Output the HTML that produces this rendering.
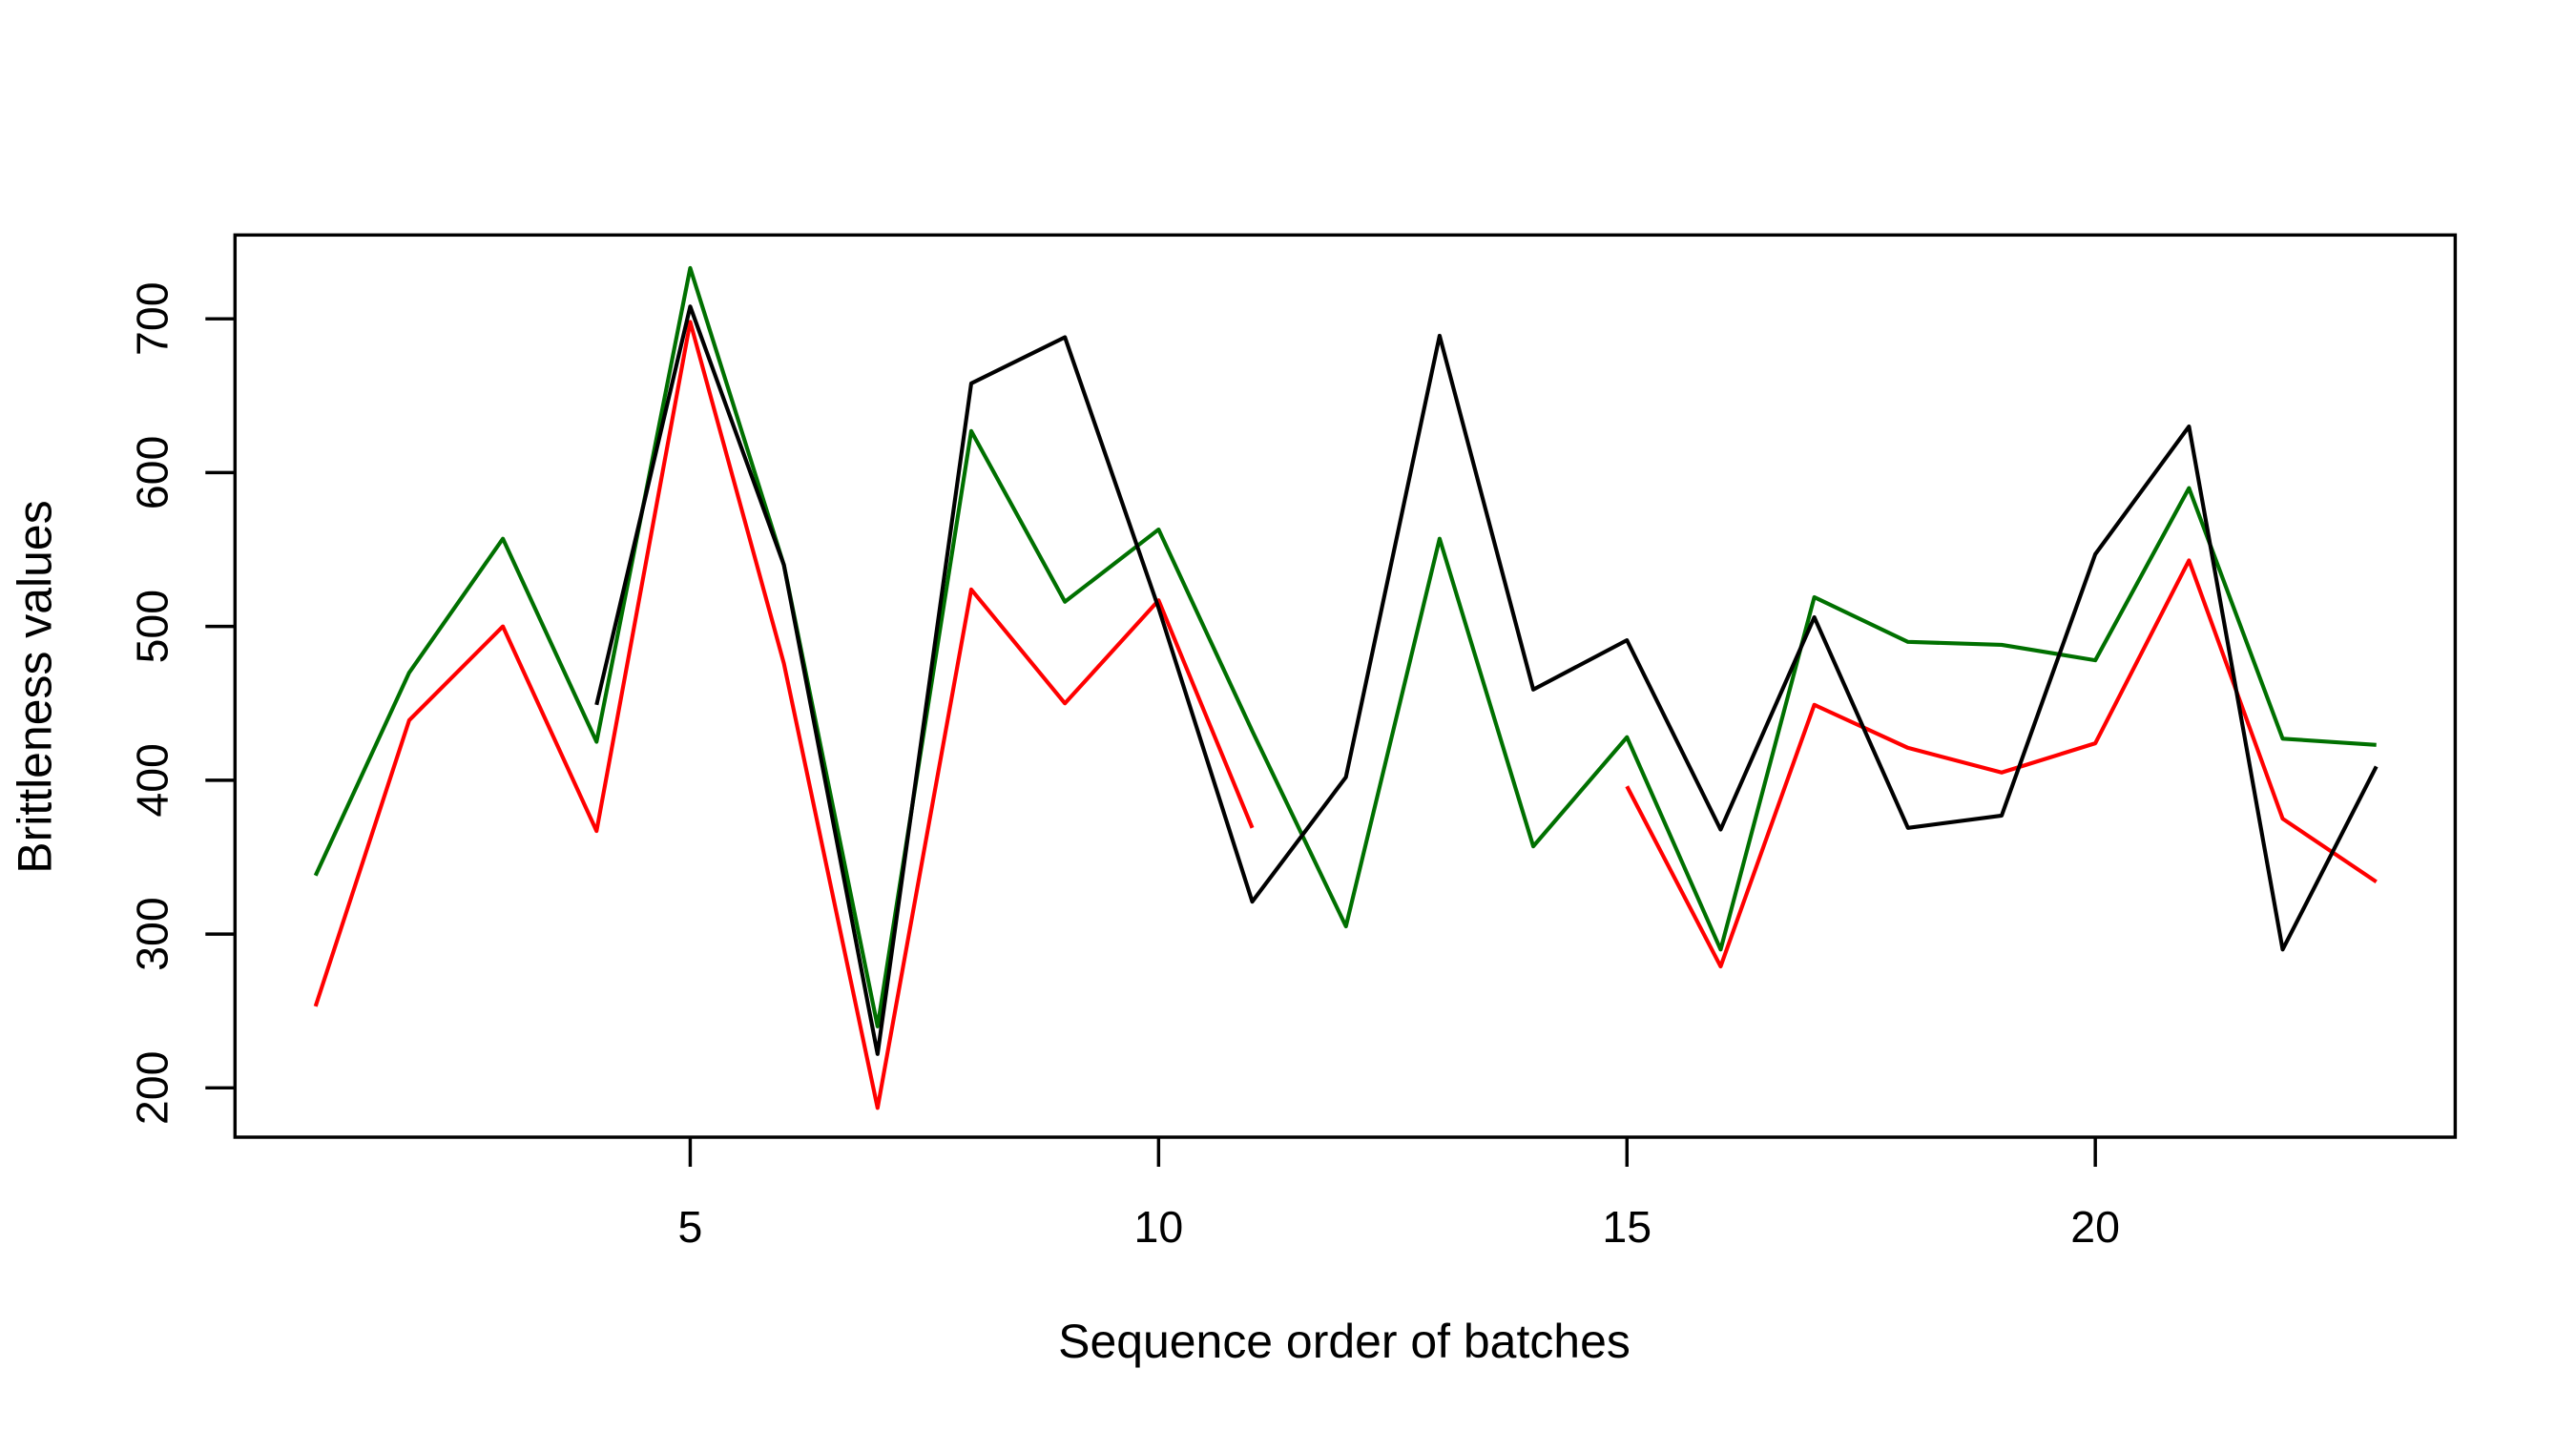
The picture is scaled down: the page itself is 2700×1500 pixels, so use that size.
<!DOCTYPE html>
<html><head><meta charset="utf-8"><style>
html,body{margin:0;padding:0;background:#fff;}
svg{display:block;font-family:"Liberation Sans",Arial,sans-serif;}
</style></head><body>
<svg id="chart" width="2700" height="1500" viewBox="0 0 1567.5 870.8" preserveAspectRatio="none" xmlns="http://www.w3.org/2000/svg">
<rect x="143" y="143" width="1351" height="549" fill="none" stroke="#000" stroke-width="2"/>
<g id="xaxis"></g>
<g id="yaxis"></g>
<g id="series"></g>
<text x="818" y="826" font-size="29" text-anchor="middle">Sequence order of batches</text>
<text transform="translate(31,418) rotate(-90)" font-size="29" text-anchor="middle">Brittleness values</text>
</svg>
<script>
const xValues = [1,2,3,4,5,6,7,8,9,10,11,12,13,14,15,16,17,18,19,20,21,22,23];
const redValues = [253,439,500,367,698,476,187,524,450,517,369,null,null,null,396,279,449,421,405,424,543,375,334];
const greenValues = [338,470,557,425,733,540,240,627,516,563,432,305,557,357,428,290,519,490,488,478,590,427,423];
const blackValues = [null,null,null,449,708,540,222,658,688,512,321,402,689,459,491,368,506,369,377,547,630,290,409];
const xTicks = [5,10,15,20];
const yTicks = [200,300,400,500,600,700];

const NS = "http://www.w3.org/2000/svg";
function xs(v){ return 420 + (v-5)*57; }
function ys(v){ return 194 + (700-v)*0.936; }

const xa = document.getElementById('xaxis');
xTicks.forEach(t=>{
  const l=document.createElementNS(NS,'line');
  l.setAttribute('x1',xs(t));l.setAttribute('x2',xs(t));l.setAttribute('y1',692);l.setAttribute('y2',710);
  l.setAttribute('stroke','#000');l.setAttribute('stroke-width','2');
  
  
  xa.appendChild(l);
  const tx=document.createElementNS(NS,'text');
  tx.setAttribute('x',xs(t));tx.setAttribute('y',756);tx.setAttribute('font-size','27');tx.setAttribute('text-anchor','middle');
  tx.textContent=t;
  
  
  xa.appendChild(tx);
});
const ya = document.getElementById('yaxis');
yTicks.forEach(t=>{
  const l=document.createElementNS(NS,'line');
  l.setAttribute('x1',125);l.setAttribute('x2',143);l.setAttribute('y1',ys(t));l.setAttribute('y2',ys(t));
  l.setAttribute('stroke','#000');l.setAttribute('stroke-width','2');
  
  
  ya.appendChild(l);
  const tx=document.createElementNS(NS,'text');
  tx.setAttribute('transform','translate(102,'+ys(t)+') rotate(-90)');
  tx.setAttribute('font-size','27');tx.setAttribute('text-anchor','middle');
  tx.textContent=t;
  
  
  ya.appendChild(tx);
});
const sg=document.getElementById('series');
function drawSeries(vals,color,name){
  let segs=[],cur=[];
  vals.forEach((v,i)=>{
    if(v===null){ if(cur.length) segs.push(cur); cur=[]; }
    else cur.push(xs(xValues[i]).toFixed(1)+','+ys(v).toFixed(1));
  });
  if(cur.length) segs.push(cur);
  segs.forEach(s=>{
    const p=document.createElementNS(NS,'polyline');
    p.setAttribute('points',s.join(' '));
    p.setAttribute('fill','none');p.setAttribute('stroke',color);p.setAttribute('stroke-width','2.4');
    p.setAttribute('stroke-linejoin','round');
    
    
    sg.appendChild(p);
  });
}
drawSeries(greenValues,'#007000','green-series-line');
drawSeries(redValues,'#ff0000','red-series-line');
drawSeries(blackValues,'#000000','black-series-line');
</script>
</body></html>
